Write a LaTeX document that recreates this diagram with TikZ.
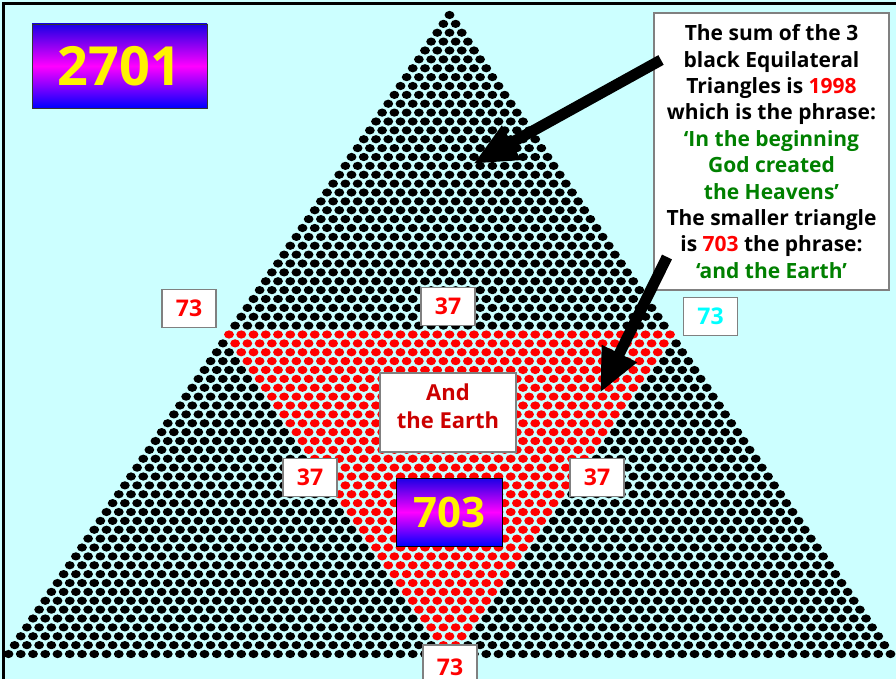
\documentclass[tikz,border=0pt]{standalone}
\usepackage{fontspec}
\setmainfont{Open Sans}
\usetikzlibrary{arrows.meta}
\definecolor{bgc}{HTML}{CCFFFF}
\definecolor{grn}{HTML}{008000}
\definecolor{dred}{HTML}{CC0000}
\definecolor{bordg}{HTML}{808080}
\definecolor{cyn}{HTML}{00FFFF}
\begin{document}
\begin{tikzpicture}[x=1pt,y=-1pt,
  numbox/.style={draw=bordg,line width=1.2pt,fill=white,minimum width=54pt,minimum height=38pt,inner sep=0pt,
    font=\fontsize{23}{23}\selectfont\bfseries,text=red},
  gradbox/.style={draw=black!80,line width=0.8pt,top color=blue!80!violet,bottom color=blue,middle color=magenta,
    inner sep=0pt,text=yellow},
  bigarrow/.style={line width=11pt,-{Triangle[length=44pt,width=36pt]}}
]
\fill[bgc] (0,0) rectangle (896,679);
\useasboundingbox (0,0) rectangle (896,679);
% dots
\foreach \r in {0,...,72}{
  \foreach \k in {0,...,\r}{
    \pgfmathsetmacro\xx{449.5+(\k-\r/2)*12.25}
    \pgfmathsetmacro\yy{15+\r*8.875}
    \pgfmathtruncatemacro\isred{(\r>35)*(\k>=\r-36)*(\k<=36)}
    \ifnum\isred=1
      \fill[red] (\xx,\yy) ellipse [x radius=4.9, y radius=4.1];
    \else
      \fill[black] (\xx,\yy) ellipse [x radius=4.9, y radius=4.1];
    \fi
  }
}
% frame
\draw[line width=3pt] (3.5,679) -- (3.5,4) -- (896,4);
% boxes
\node[gradbox,minimum width=175pt,minimum height=84pt,font=\fontsize{54}{54}\selectfont\bfseries] (n2701) at (119.5,66) {2701};
\node[gradbox,draw=black,minimum width=106pt,minimum height=68pt,font=\fontsize{42}{42}\selectfont\bfseries] (n703) at (449,512) {703};
\node[draw=bordg,line width=1.2pt,fill=white,minimum width=136pt,minimum height=79pt,inner sep=0pt] (earth) at (448,412.5) {};
\node[align=center,inner sep=0pt,text=dred,font=\fontsize{22}{28}\selectfont\bfseries] (earthtxt) at (448,406) {And\\the Earth};
\node[numbox] (l73) at (189,308.5) {73};
\node[numbox] (t37) at (448,306.5) {37};
\node[numbox,text=cyn] (r73) at (710.5,316.5) {73};
\node[numbox] (l37) at (310,477.5) {37};
\node[numbox] (r37) at (597,477.5) {37};
\node[numbox,minimum height=44pt] (b73) at (450,667) {73};
\node[draw=bordg,line width=1.2pt,fill=white,minimum width=235pt,minimum height=277pt,inner sep=0pt,align=center,
  font=\fontsize{21}{26.4}\selectfont\bfseries] (info) at (771.5,151.5)
  {The sum of the 3\\black Equilateral\\Triangles is \textcolor{red}{1998}\\which is the phrase:\\
   \textcolor{grn}{‘In the beginning}\\\textcolor{grn}{God created}\\\textcolor{grn}{the Heavens’}\\
   The smaller triangle\\is \textcolor{red}{703} the phrase:\\\textcolor{grn}{‘and the Earth’}};
% arrows
\coordinate (a1s) at (661,60);
\coordinate (a1e) at (473,164);
\coordinate (a2s) at (667,257);
\coordinate (a2e) at (600,393);
\draw[bigarrow] (a1s) -- (a1e);
\draw[bigarrow] (a2s) -- (a2e);
\end{tikzpicture}
\end{document}
